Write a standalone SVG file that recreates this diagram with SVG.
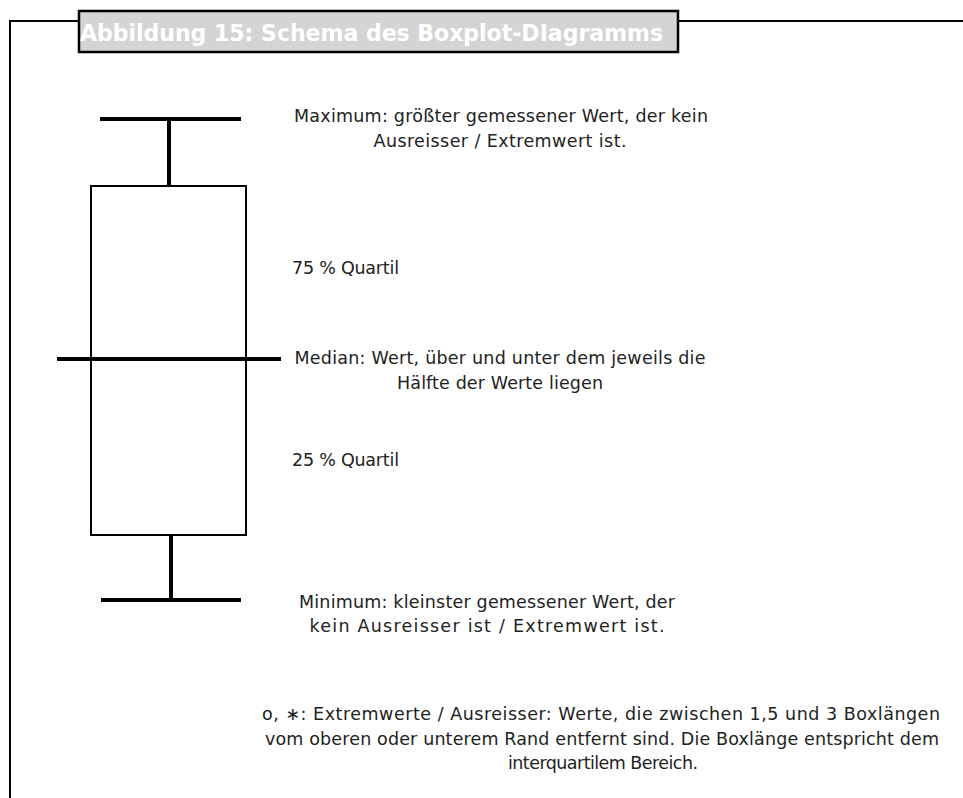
<svg xmlns="http://www.w3.org/2000/svg" width="963" height="798" viewBox="0 0 963 798">
<style>
.t{font-family:"DejaVu Sans","Noto Sans",sans-serif;font-size:17.5px;fill:#222}
.m{text-anchor:middle}
.thick{stroke:#000;stroke-width:4;fill:none}
.thin{stroke:#000;stroke-width:2;fill:none}
</style>
<rect width="963" height="798" fill="#fff"/>
<g id="frame">
<polyline points="10,798 10,21 963,21" class="thin" stroke-width="2.5"/>
</g>
<g id="title">
<rect x="79" y="11" width="599" height="41" fill="#d4d4d4" stroke="#000" stroke-width="2.5"/>
<text x="80" y="41" font-family="'DejaVu Sans Condensed','DejaVu Sans',sans-serif" font-weight="bold" font-size="23" fill="#fff" textLength="583" lengthAdjust="spacingAndGlyphs">Abbildung 15: Schema des Boxplot-DIagramms</text>
</g>
<g id="boxplot">
<line x1="100" y1="119" x2="241" y2="119" class="thick"/>
<line x1="169" y1="119" x2="169" y2="185" class="thick"/>
<rect x="91" y="186" width="155" height="349" class="thin"/>
<line x1="57" y1="359" x2="281" y2="359" class="thick"/>
<line x1="171" y1="535" x2="171" y2="600" class="thick"/>
<line x1="101" y1="600" x2="241" y2="600" class="thick"/>
</g>
<g id="labels">
<text class="t m" x="501" y="122" textLength="414" lengthAdjust="spacing">Maximum: größter gemessener Wert, der kein</text>
<text class="t m" x="500" y="147" textLength="253" lengthAdjust="spacing">Ausreisser / Extremwert ist.</text>
<text class="t" x="292" y="274" textLength="107" lengthAdjust="spacing">75 % Quartil</text>
<text class="t m" x="500" y="364" textLength="411" lengthAdjust="spacing">Median: Wert, über und unter dem jeweils die</text>
<text class="t m" x="500" y="389" textLength="206" lengthAdjust="spacing">Hälfte der Werte liegen</text>
<text class="t" x="292" y="466" textLength="107" lengthAdjust="spacing">25 % Quartil</text>
<text class="t m" x="487" y="608" textLength="376" lengthAdjust="spacing">Minimum: kleinster gemessener Wert, der</text>
<text class="t m" x="487" y="632" textLength="355" lengthAdjust="spacing">kein Ausreisser ist / Extremwert ist.</text>
<text class="t m" x="601" y="720" textLength="678" lengthAdjust="spacing">o, ∗: Extremwerte / Ausreisser: Werte, die zwischen 1,5 und 3 Boxlängen</text>
<text class="t m" x="602" y="745" textLength="674" lengthAdjust="spacing">vom oberen oder unterem Rand entfernt sind. Die Boxlänge entspricht dem</text>
<text class="t m" x="603" y="769" textLength="190" lengthAdjust="spacing">interquartilem Bereich.</text>
</g>
</svg>
